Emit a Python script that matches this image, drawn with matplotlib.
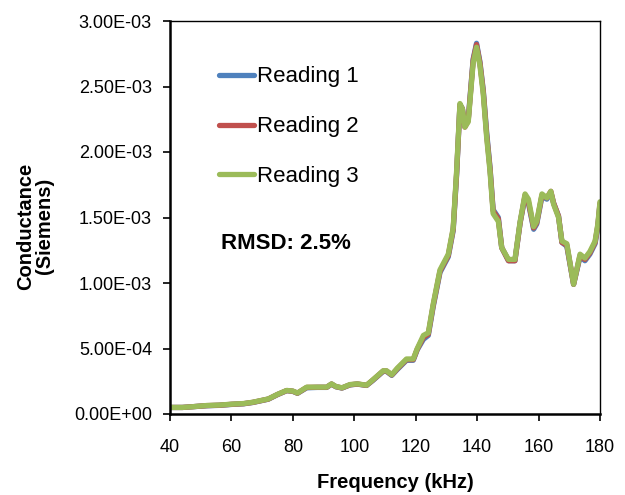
import matplotlib
matplotlib.use('Agg')
import matplotlib.pyplot as plt
import numpy as np

plt.rcParams['font.family'] = ['Liberation Sans', 'DejaVu Sans']

# frequency (kHz)
freq = [40, 44, 47, 52, 56, 60, 64, 67, 70, 72, 75, 78, 80, 81.5, 84.5, 88, 91, 92.6,
        94, 96, 98.6, 101, 104, 106, 109.4, 110.5, 112.2, 114, 117, 119.2, 120.5, 122.5,
        124.1, 125.7, 127.9, 130.6, 132.2, 133.3, 134.4, 135.2, 136, 137.1, 138.7, 139.8,
        140.9, 142, 143.1, 144.2, 145.2, 146.9, 148, 150.2, 152.3, 154, 155.6, 156.7,
        158.4, 159.4, 161.1, 162.7, 164, 164.9, 166.5, 167.6, 169.2, 171.4, 173.5, 175.1,
        176.7, 178.4, 179.3, 180]

# conductance in mS
reading1 = [0.05, 0.05, 0.055, 0.063, 0.066, 0.073, 0.078, 0.088, 0.103, 0.113, 0.148, 0.178,
            0.173, 0.158, 0.2, 0.203, 0.203, 0.228, 0.208, 0.198, 0.222, 0.228, 0.218, 0.255,
            0.325, 0.325, 0.295, 0.34, 0.41, 0.41, 0.49, 0.57, 0.6, 0.82, 1.08, 1.2, 1.4,
            1.82, 2.36, 2.33, 2.2, 2.25, 2.71, 2.83, 2.69, 2.47, 2.15, 1.88, 1.56, 1.5, 1.27,
            1.17, 1.17, 1.46, 1.66, 1.61, 1.41, 1.45, 1.66, 1.64, 1.69, 1.61, 1.51, 1.31,
            1.28, 0.99, 1.2, 1.17, 1.22, 1.3, 1.43, 1.6]
reading2 = [0.05, 0.05, 0.055, 0.064, 0.067, 0.074, 0.079, 0.089, 0.104, 0.114, 0.149, 0.179,
            0.174, 0.159, 0.203, 0.204, 0.204, 0.229, 0.209, 0.199, 0.223, 0.229, 0.219, 0.258,
            0.328, 0.328, 0.298, 0.345, 0.415, 0.415, 0.495, 0.585, 0.61, 0.83, 1.09, 1.21,
            1.41, 1.83, 2.36, 2.33, 2.19, 2.24, 2.7, 2.82, 2.68, 2.46, 2.13, 1.87, 1.55, 1.49,
            1.27, 1.17, 1.17, 1.46, 1.67, 1.62, 1.42, 1.46, 1.67, 1.65, 1.7, 1.61, 1.51, 1.31,
            1.29, 0.99, 1.21, 1.18, 1.23, 1.31, 1.44, 1.61]
reading3 = [0.05, 0.05, 0.055, 0.065, 0.068, 0.075, 0.08, 0.09, 0.105, 0.115, 0.15, 0.18,
            0.175, 0.16, 0.205, 0.205, 0.205, 0.23, 0.21, 0.2, 0.225, 0.23, 0.22, 0.26, 0.33,
            0.33, 0.3, 0.35, 0.42, 0.42, 0.5, 0.6, 0.62, 0.84, 1.1, 1.22, 1.42, 1.85, 2.37,
            2.33, 2.19, 2.23, 2.68, 2.8, 2.66, 2.44, 2.11, 1.85, 1.53, 1.47, 1.27, 1.18, 1.18,
            1.47, 1.68, 1.64, 1.43, 1.47, 1.68, 1.65, 1.7, 1.6, 1.5, 1.32, 1.3, 0.99, 1.22,
            1.19, 1.24, 1.32, 1.45, 1.62]

labels = ['Reading 1', 'Reading 2', 'Reading 3']
colors = ['#4F81BD', '#C0504D', '#9BBB59']

fig = plt.figure(figsize=(6.25, 4.95), dpi=100)
ax = fig.add_axes([170 / 625, 1 - 414 / 495, 430 / 625, 393 / 495])

for ys, lab, c in zip([reading1, reading2, reading3], labels, colors):
    ax.plot(freq, np.array(ys) * 1e-3, color=c, lw=3.8, label=lab,
            solid_capstyle='round', solid_joinstyle='round')

ax.set_xlim(40, 180)
ax.set_ylim(0, 3e-3)
ax.set_xticks(np.arange(40, 181, 20))
ax.set_yticks(np.arange(0, 3.01e-3, 0.5e-3))
ax.set_yticklabels(['0.00E+00', '5.00E-04', '1.00E-03', '1.50E-03',
                    '2.00E-03', '2.50E-03', '3.00E-03'])
ax.tick_params(axis='both', direction='out', length=5, width=1.2, labelsize=13,
               colors='black')
ax.tick_params(axis='x', pad=13)
ax.tick_params(axis='y', pad=8)
for side in ['left', 'bottom']:
    ax.spines[side].set_linewidth(1.8)
for side in ['top', 'right']:
    ax.spines[side].set_linewidth(1.0)

leg = ax.legend(loc='upper left', bbox_to_anchor=(0.093, 0.907), frameon=False,
                fontsize=16, handlelength=1.6, handletextpad=0.1, labelspacing=1.3,
                borderaxespad=0)
for line in leg.get_lines():
    line.set_linewidth(3.8)

ax.text(0.118, 0.435, 'RMSD: 2.5%', transform=ax.transAxes, fontsize=16,
        fontweight='bold', va='center', ha='left')

fig.text(395 / 625, 1 - 483 / 495, 'Frequency (kHz)', fontsize=14.5, fontweight='bold',
         ha='center', va='center')
fig.text(35 / 625, 1 - 226 / 495, 'Conductance\n(Siemens)', fontsize=14.5,
         fontweight='bold', ha='center', va='center', rotation=90, linespacing=1.0)

fig.savefig('out.png', dpi=100)
